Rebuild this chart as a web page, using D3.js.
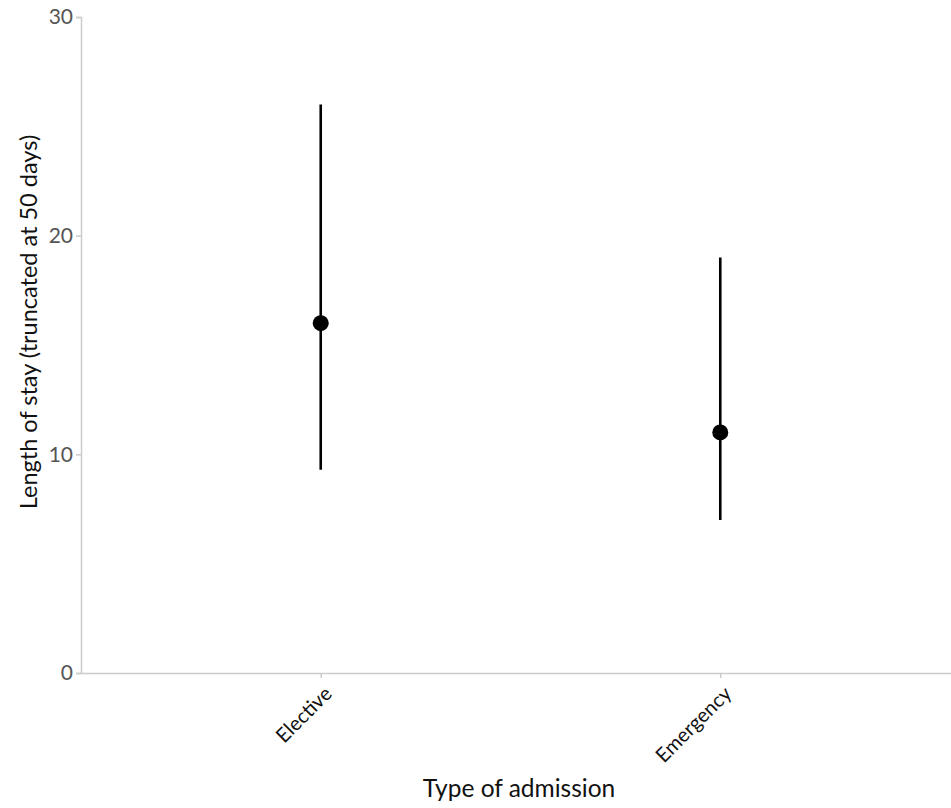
<!DOCTYPE html>
<html>
<head>
<meta charset="utf-8">
<script src="https://cdn.jsdelivr.net/npm/d3@7"></script>
<style>
  body { margin: 0; background: #fff; }
  svg { display: block; font-family: Lato, "Open Sans", sans-serif; }
</style>
</head>
<body>
<svg id="chart" width="951" height="808"></svg>
<script>
// Length of stay by admission type: median with interval bounds
const categories = ["Elective", "Emergency"];
const medians = [16, 11];
const lowers = [9.3, 7];
const uppers = [26, 19];
const yTicks = [0, 10, 20, 30];

const svg = d3.select("#chart");
const plotLeft = 81, plotTop = 17, plotBottom = 673, plotRight = 960;

const x = d3.scalePoint().domain(categories).range([plotLeft, plotRight]).padding(0.6);
const y = d3.scaleLinear().domain([0, 30]).range([plotBottom, plotTop]);

const axisColor = "#cccccc";
const tickText = "#555555";

// y axis
const yAxis = svg.append("g")
  .attr("transform", `translate(${plotLeft},0)`)
  .call(d3.axisLeft(y).tickValues(yTicks).tickSize(5).tickPadding(3).tickFormat(d3.format("d")));
yAxis.select(".domain").attr("stroke", axisColor).attr("stroke-width", 1.5);
yAxis.selectAll(".tick line").attr("stroke", axisColor).attr("stroke-width", 1.5);
yAxis.selectAll(".tick text").attr("fill", tickText).attr("font-size", 21).attr("font-family", "Lato, sans-serif");

// x axis
const xAxis = svg.append("g")
  .attr("transform", `translate(0,${plotBottom})`)
  .call(d3.axisBottom(x).tickSize(5).tickSizeOuter(0));
xAxis.select(".domain").attr("stroke", axisColor).attr("stroke-width", 1.5);
xAxis.selectAll(".tick line").attr("stroke", axisColor).attr("stroke-width", 1.5);
xAxis.selectAll(".tick text")
  .attr("fill", "#111")
  .attr("font-size", 20)
  .attr("font-family", "Lato, sans-serif")
  .attr("text-anchor", "end")
  .attr("dy", "0.35em")
  .attr("y", 0)
  .attr("transform", "translate(7,17) rotate(-45)");

// intervals
svg.append("g").selectAll("line.range")
  .data(categories)
  .join("line")
  .attr("class", "range")
  .attr("x1", d => x(d)).attr("x2", d => x(d))
  .attr("y1", (d, i) => y(lowers[i]))
  .attr("y2", (d, i) => y(uppers[i]))
  .attr("stroke", "#000")
  .attr("stroke-width", 2.6);

// medians
svg.append("g").selectAll("circle")
  .data(categories)
  .join("circle")
  .attr("cx", d => x(d))
  .attr("cy", (d, i) => y(medians[i]))
  .attr("r", 8)
  .attr("fill", "#000");

// axis titles
svg.append("text")
  .attr("x", 519).attr("y", 797)
  .attr("text-anchor", "middle")
  .attr("font-size", 24.5)
  .attr("fill", "#111")
  .text("Type of admission");

svg.append("text")
  .attr("transform", "translate(37,322) rotate(-90)")
  .attr("text-anchor", "middle")
  .attr("font-size", 23.5)
  .attr("fill", "#111")
  .text("Length of stay (truncated at 50 days)");
</script>
</body>
</html>
